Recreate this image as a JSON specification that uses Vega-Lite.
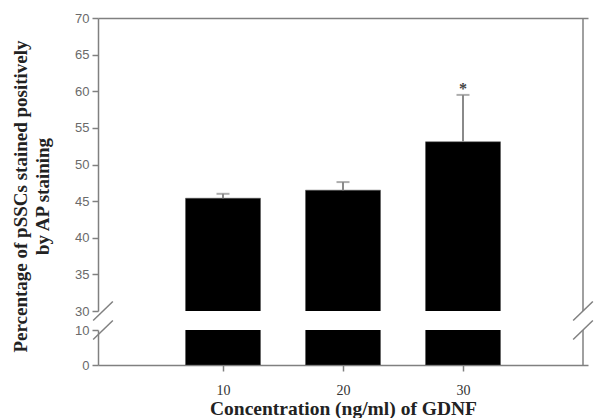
{
  "$schema": "https://vega.github.io/schema/vega-lite/v6.json",
  "padding": {"left": 11, "top": 12, "right": 0, "bottom": 0},
  "background": "white",
  "bounds": "flush",
  "config": {
    "view": {"stroke": null},
    "axis": {
      "domainColor": "#808080", "domainWidth": 1.5, "tickColor": "#808080", "tickWidth": 1.5,
      "tickSize": 6, "grid": false, "labelOverlap": false
    }
  },
  "datasets": {
    "bars": [
      {"conc": 10, "mean": 45.4, "err": 46.0, "sig": ""},
      {"conc": 20, "mean": 46.5, "err": 47.6, "sig": ""},
      {"conc": 30, "mean": 53.1, "err": 59.5, "sig": "*"}
    ],
    "breaksUpper": [
      {"x": -0.82, "y": 28.7, "x2": 0.82, "y2": 31.3},
      {"x": 39.18, "y": 28.7, "x2": 40.82, "y2": 31.3}
    ],
    "breaksLower": [
      {"x": -0.82, "y": 7.3, "x2": 0.82, "y2": 12.7},
      {"x": 39.18, "y": 7.3, "x2": 40.82, "y2": 12.7}
    ]
  },
  "spacing": 19,
  "vconcat": [
    {
      "width": 490,
      "height": 293,
      "layer": [
        {
          "data": {"name": "bars"},
          "mark": {"type": "bar", "color": "black", "size": 75, "clip": true, "stroke": "#555", "strokeWidth": 0.5},
          "encoding": {
            "x": {"field": "conc", "type": "quantitative",
                  "scale": {"domain": [0, 40], "nice": false, "zero": false},
                  "axis": {"orient": "top", "labels": false, "ticks": false, "title": null}},
            "y": {"field": "mean", "type": "quantitative",
                  "scale": {"domain": [30, 70], "nice": false, "zero": false},
                  "axis": {"orient": "left", "values": [30, 35, 40, 45, 50, 55, 60, 65, 70],
                           "tickCount": 20, "format": "d", "labelOverlap": false,
                           "labelFont": "Liberation Sans", "labelFontSize": 13, "labelColor": "#6a6a6a",
                           "labelPadding": 3,
                           "title": ["Percentage of pSSCs stained positively", "by AP staining"],
                           "titleFont": "Liberation Serif", "titleFontSize": 19, "titleFontWeight": "bold",
                           "titleColor": "#222", "titleLineHeight": 22, "titleY": 178, "titlePadding": 22}}
          }
        },
        {
          "data": {"name": "bars"},
          "mark": {"type": "rule", "color": "#8a8a8a", "strokeWidth": 2},
          "encoding": {
            "x": {"field": "conc", "type": "quantitative"},
            "y": {"field": "mean", "type": "quantitative"},
            "y2": {"field": "err"}
          }
        },
        {
          "data": {"name": "bars"},
          "mark": {"type": "tick", "orient": "horizontal", "color": "#8a8a8a", "size": 13, "thickness": 2},
          "encoding": {
            "x": {"field": "conc", "type": "quantitative"},
            "y": {"field": "err", "type": "quantitative"}
          }
        },
        {
          "data": {"name": "bars"},
          "mark": {"type": "text", "font": "Liberation Serif", "fontSize": 16, "fontWeight": "bold", "color": "#444", "baseline": "middle", "dy": -6},
          "encoding": {
            "x": {"field": "conc", "type": "quantitative"},
            "y": {"field": "err", "type": "quantitative"},
            "text": {"field": "sig"}
          }
        },
        {
          "data": {"values": [{}]},
          "mark": {"type": "rule", "color": "#808080", "strokeWidth": 1.5},
          "encoding": {
            "x": {"datum": 40},
            "y": {"datum": 30},
            "y2": {"datum": 70}
          }
        },
        {
          "data": {"name": "breaksUpper"},
          "mark": {"type": "rule", "color": "#808080", "strokeWidth": 1.5, "clip": false},
          "encoding": {
            "x": {"field": "x", "type": "quantitative"},
            "x2": {"field": "x2"},
            "y": {"field": "y", "type": "quantitative"},
            "y2": {"field": "y2"}
          }
        }
      ]
    },
    {
      "width": 490,
      "height": 35,
      "layer": [
        {
          "data": {"name": "bars"},
          "mark": {"type": "bar", "color": "black", "size": 75, "clip": true, "stroke": "#555", "strokeWidth": 0.5},
          "encoding": {
            "x": {"field": "conc", "type": "quantitative",
                  "scale": {"domain": [0, 40], "nice": false, "zero": false},
                  "axis": {"orient": "bottom", "values": [10, 20, 30], "format": "d",
                           "labelFont": "Liberation Serif", "labelFontSize": 14, "labelColor": "#333",
                           "labelPadding": 12,
                           "title": "Concentration (ng/ml) of GDNF",
                           "titleFont": "Liberation Serif", "titleFontSize": 19.5, "titleFontWeight": "bold",
                           "titleColor": "#222", "titlePadding": 2}},
            "y": {"field": "mean", "type": "quantitative",
                  "scale": {"domain": [0, 10], "nice": false, "zero": false},
                  "axis": {"orient": "left", "values": [0, 10], "format": "d",
                           "labelFont": "Liberation Sans", "labelFontSize": 13, "labelColor": "#6a6a6a",
                           "labelPadding": 3, "title": null}}
          }
        },
        {
          "data": {"values": [{}]},
          "mark": {"type": "rule", "color": "#808080", "strokeWidth": 1.5},
          "encoding": {
            "x": {"datum": 40},
            "y": {"datum": 0},
            "y2": {"datum": 10}
          }
        },
        {
          "data": {"name": "breaksLower"},
          "mark": {"type": "rule", "color": "#808080", "strokeWidth": 1.5, "clip": false},
          "encoding": {
            "x": {"field": "x", "type": "quantitative"},
            "x2": {"field": "x2"},
            "y": {"field": "y", "type": "quantitative"},
            "y2": {"field": "y2"}
          }
        }
      ]
    }
  ]
}
